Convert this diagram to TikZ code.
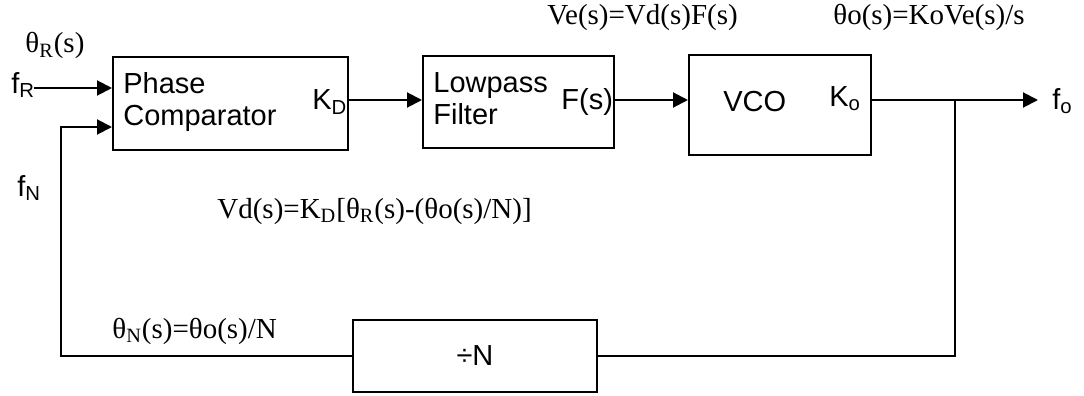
\documentclass[tikz,border=0pt]{standalone}
\usepackage{fontspec}
\setmainfont{Liberation Serif}
\setsansfont{Liberation Sans}
\usetikzlibrary{arrows.meta}

\begin{document}
\begin{tikzpicture}[x=0.5pt, y=-0.5pt,
  blk/.style={draw, line width=1pt, inner sep=0pt},
  lbl/.style={font=\sffamily\fontsize{14.5}{17}\selectfont, inner sep=0pt, anchor=base west},
  eqn/.style={font=\rmfamily\fontsize{14.5}{17}\selectfont, inner sep=0pt, anchor=base west},
  sig/.style={line width=1pt, -{Triangle[length=7.5pt, width=7.5pt]}}]
  \useasboundingbox (0,0) rectangle (1084,396);

  % blocks of the loop
  \node[blk, minimum width=117.5pt, minimum height=46.5pt] (pc) at (230.5,103.5) {};
  \node[blk, minimum width=95.5pt, minimum height=46pt] (lpf) at (518.5,102) {};
  \node[blk, minimum width=91pt, minimum height=50pt] (vco) at (780,105) {};
  \node[blk, minimum width=122pt, minimum height=36pt,
    font=\sffamily\fontsize{14.5}{17}\selectfont] (div) at (475,356) {÷N};

  % texts in the blocks
  \node[lbl] (phase) at (123,93) {Phase};
  \node[lbl] (comp) at (123,126) {Comparator};
  \node[lbl] (kd) at (312,110) {K\textsubscript{D}};
  \node[lbl] (lowp) at (433,92) {Lowpass};
  \node[lbl] (filt) at (433,125) {Filter};
  \node[lbl] (fs) at (561,110) {F(s)};
  \node[lbl] (vcot) at (723,112) {VCO};
  \node[lbl] (ko) at (829,106) {K\textsubscript{o}};

  % signal names
  \node[lbl] (fr) at (11,93) {f\textsubscript{R}};
  \node[lbl] (fn) at (17,196) {f\textsubscript{N}};
  \node[lbl] (fo) at (1052,109) {f\textsubscript{o}};

  % equations
  \node[eqn] (thr) at (25,53) {θ\textsubscript{R}(s)};
  \node[eqn] (ve) at (547,25) {Ve(s)=Vd(s)F(s)};
  \node[eqn] (tho) at (833,25) {θo(s)=KoVe(s)/s};
  \node[eqn] (vd) at (217,218) {Vd(s)=K\textsubscript{D}[θ\textsubscript{R}(s)-(θo(s)/N)]};
  \node[eqn] (thn) at (112,338) {θ\textsubscript{N}(s)=θo(s)/N};

  % connectors
  \coordinate (lvl) at (0,100);
  \coordinate (inR) at (34,88);
  \coordinate (fbk) at (61,127);
  \coordinate (tap) at (955,100);
  \coordinate (outo) at (1038,100);
  \draw[sig] (inR) -- (pc.west |- inR);
  \draw[sig] (pc.east |- lvl) -- (lpf.west |- lvl);
  \draw[sig] (lpf.east |- lvl) -- (vco.west |- lvl);
  \draw[sig] (vco.east |- lvl) -- (outo);
  \draw[line width=1pt] (tap) |- (div.east);
  \draw[sig] (div.west) -| (fbk) -- (pc.west |- fbk);
\end{tikzpicture}
\end{document}
